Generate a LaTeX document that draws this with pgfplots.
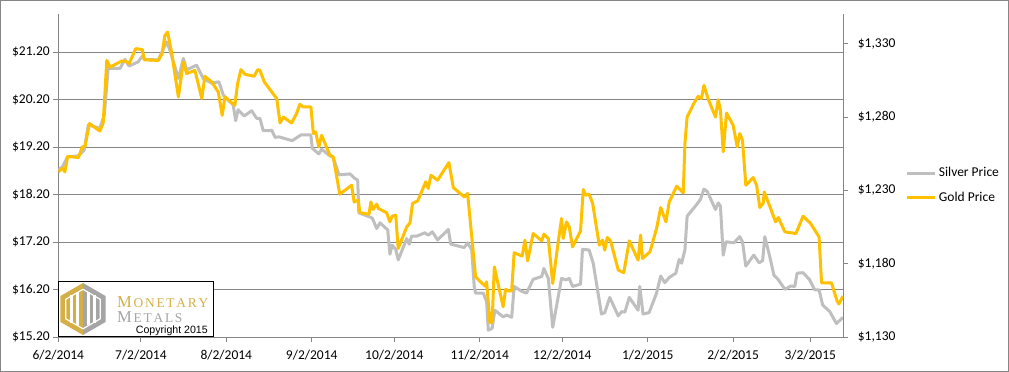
\documentclass[border=0pt]{standalone}
\usepackage{pgfplots}
\pgfplotsset{compat=1.18}
\usepackage{fontspec}
\setmainfont{Carlito}
\newfontfamily\serifl{Liberation Serif}
\newfontfamily\arial{Liberation Sans}
\definecolor{goldc}{HTML}{FFC000}
\definecolor{silverc}{HTML}{BFBFBF}
\definecolor{gridc}{HTML}{868686}
\definecolor{logogold}{HTML}{D4AF45}
\definecolor{logogray}{HTML}{A5A5A5}

\pgfplotstableread{
day price
0.0 18.72
1.5 18.79
3.4 19.00
7.3 19.02
9.4 19.14
10.9 19.67
15.1 19.60
16.7 19.88
18.1 20.86
22.4 20.86
24.2 21.05
25.7 20.91
29.0 21.00
30.5 21.12
31.5 21.05
36.3 21.04
39.3 21.42
40.5 21.25
43.6 20.65
45.4 21.07
46.6 20.83
50.2 20.93
51.4 20.79
52.6 20.65
55.7 20.55
58.3 20.58
59.9 20.30
63.5 20.09
64.4 19.76
65.3 19.99
67.5 19.86
70.2 19.97
72.0 19.81
73.2 19.81
74.4 19.55
76.5 19.55
77.5 19.56
78.7 19.41
80.1 19.42
84.9 19.34
88.1 19.46
91.7 19.46
92.2 19.18
94.6 19.06
95.6 19.16
98.6 19.02
99.8 18.99
101.9 18.62
105.9 18.64
107.5 18.55
108.7 18.51
109.1 17.82
112.8 17.74
114.0 17.71
115.6 17.49
116.8 17.61
119.6 17.46
120.4 16.95
121.2 17.14
122.5 17.05
123.4 16.83
124.6 17.00
126.5 17.28
127.4 17.16
128.3 17.33
130.1 17.33
133.1 17.40
134.3 17.35
135.8 17.42
137.7 17.25
141.6 17.47
142.5 17.16
147.4 17.09
148.6 17.19
150.1 17.04
151.0 16.27
151.5 16.13
154.3 16.13
155.5 15.95
156.1 15.35
157.5 15.39
158.5 15.77
161.5 15.63
162.8 15.67
164.6 15.62
165.5 16.27
168.2 16.17
170.0 16.13
172.4 16.42
175.5 16.48
176.3 16.65
177.9 16.44
179.5 15.41
182.7 16.44
184.3 16.41
185.5 16.44
186.7 16.27
189.6 16.32
190.3 17.05
192.7 17.04
194.2 16.76
197.2 15.69
198.4 15.72
200.2 16.04
203.3 15.65
204.5 15.74
205.7 15.73
207.3 16.04
210.5 15.77
211.1 16.27
212.3 15.69
214.5 15.72
217.2 16.13
218.7 16.49
220.2 16.35
221.8 16.46
224.2 16.55
225.4 16.84
226.3 16.76
227.5 17.04
228.3 17.75
231.7 17.99
233.2 18.11
234.4 18.32
235.6 18.27
238.6 17.89
239.6 18.03
240.4 17.96
241.4 16.93
242.4 17.21
245.3 17.19
247.4 17.32
248.4 17.21
249.6 16.70
252.5 16.93
254.4 16.77
255.7 16.81
256.5 17.32
258.3 16.90
259.8 16.51
261.3 16.42
263.8 16.21
265.9 16.28
267.4 16.27
268.2 16.55
270.4 16.56
272.8 16.41
274.6 16.20
276.2 16.20
277.5 15.88
280.1 15.74
282.5 15.49
284.9 15.62
}\silverdata

\pgfplotstableread{
day price
0.0 1242.7
1.5 1245.0
2.4 1242.7
3.4 1253.3
7.3 1252.4
8.7 1259.7
9.7 1260.0
11.3 1275.6
13.3 1272.9
15.1 1270.5
16.3 1276.0
17.6 1318.6
18.8 1314.0
23.0 1318.2
24.5 1318.0
25.7 1316.4
28.1 1326.6
30.5 1326.0
31.2 1319.0
36.3 1318.6
37.7 1323.2
38.7 1335.6
39.7 1337.9
41.2 1323.2
43.6 1293.7
45.4 1317.5
46.6 1309.6
49.6 1311.8
52.1 1292.6
53.2 1307.8
55.7 1303.9
58.1 1297.0
59.5 1281.2
60.5 1293.7
64.1 1288.0
65.1 1302.8
66.3 1312.3
67.8 1309.1
71.1 1307.8
72.4 1312.3
73.2 1311.8
74.8 1303.9
79.3 1292.6
80.5 1276.0
81.7 1280.0
84.7 1276.0
86.5 1282.4
87.7 1288.7
88.9 1286.9
91.7 1286.9
92.6 1268.8
93.4 1269.9
94.6 1259.7
95.6 1267.6
98.6 1254.0
99.8 1252.9
102.2 1227.5
106.5 1233.6
107.4 1222.2
108.9 1223.4
109.5 1214.8
112.8 1213.9
113.5 1222.2
114.3 1217.1
115.6 1220.7
116.2 1217.8
119.2 1214.8
120.4 1208.6
121.2 1212.5
122.5 1213.2
123.4 1190.5
126.5 1205.2
127.7 1208.0
128.6 1221.2
130.5 1222.9
133.4 1235.9
134.3 1231.4
135.3 1240.4
137.7 1237.0
141.8 1249.0
143.4 1232.0
147.4 1225.6
148.6 1228.0
151.5 1171.2
154.9 1164.9
155.5 1167.8
156.7 1139.9
157.5 1140.6
158.3 1178.0
161.5 1150.8
162.4 1162.7
163.3 1161.7
164.6 1161.7
165.5 1187.6
168.4 1185.3
169.4 1196.2
170.4 1182.1
172.4 1200.7
175.5 1195.7
176.3 1200.3
177.9 1197.3
179.5 1166.7
181.1 1189.4
182.7 1211.0
183.3 1197.3
184.5 1208.6
185.5 1205.2
186.7 1191.6
189.6 1202.5
190.6 1230.7
191.5 1226.8
192.7 1227.5
194.0 1221.2
196.4 1192.8
197.6 1196.2
198.4 1189.4
199.3 1198.0
200.5 1195.7
203.3 1175.8
205.3 1174.0
207.3 1195.7
210.5 1182.6
211.4 1199.6
212.1 1183.7
214.8 1188.2
217.2 1204.1
218.7 1218.4
220.6 1208.6
221.8 1222.2
224.5 1232.9
226.9 1228.5
227.5 1262.0
228.3 1280.0
230.7 1289.2
232.3 1294.1
233.5 1292.6
234.4 1301.6
235.9 1292.6
238.6 1280.0
239.6 1291.9
240.4 1284.6
241.4 1256.3
242.6 1282.8
245.0 1274.4
246.5 1259.7
247.4 1268.8
248.4 1264.2
249.6 1233.6
252.3 1238.8
253.5 1233.6
254.7 1218.4
255.9 1221.2
256.3 1229.0
258.4 1218.8
260.4 1208.6
261.4 1211.6
263.8 1201.8
267.8 1200.7
270.4 1212.5
273.1 1207.6
276.2 1198.4
277.1 1167.1
280.7 1167.1
282.7 1154.9
283.4 1152.7
284.9 1158.1
}\golddata

\begin{document}
\begin{tikzpicture}[x=1pt,y=1pt]
\begin{axis}[
  at={(0,0)}, anchor=south west,
  scale only axis, width=785pt, height=323pt,
  xmin=0, xmax=285, ymin=15.2, ymax=22.0,
  axis y line*=left, axis x line*=bottom,
  axis line style={gridc, line width=0.9pt, -},
  xtick={0,30,61,92,122,153,183,214,245,273},
  xticklabels={6/2/2014,7/2/2014,8/2/2014,9/2/2014,10/2/2014,11/2/2014,12/2/2014,1/2/2015,2/2/2015,3/2/2015},
  ytick={15.2,16.2,17.2,18.2,19.2,20.2,21.2},
  yticklabels={\$15.20,\$16.20,\$17.20,\$18.20,\$19.20,\$20.20,\$21.20},
  ymajorgrids, major grid style={gridc, line width=0.9pt},
  tick align=outside, major tick length=5pt,
  tick style={gridc, line width=0.9pt},
  ticklabel style={font=\fontsize{13.5}{15}\selectfont, text=black},
  xticklabel style={yshift=-4pt},
]
\addplot[silverc, line width=3pt, line join=round, no markers] table[x=day, y=price] {\silverdata};
\end{axis}
\begin{axis}[
  at={(0,0)}, anchor=south west,
  scale only axis, width=785pt, height=323pt,
  xmin=0, xmax=285, ymin=1130, ymax=1350,
  axis y line*=right, axis x line=none, xtick=\empty,
  axis line style={gridc, line width=0.9pt, -},
  ytick={1130,1180,1230,1280,1330},
  yticklabels={{\$1,130},{\$1,180},{\$1,230},{\$1,280},{\$1,330}},
  tick align=outside, major tick length=5pt,
  tick style={gridc, line width=0.9pt},
  ticklabel style={font=\fontsize{13.5}{15}\selectfont, text=black},
  yticklabel style={xshift=6pt},
  legend style={at={(1.0795,0.47)}, anchor=west, draw=none, fill=none,
    font=\fontsize{13.5}{15}\selectfont, row sep=10pt, inner sep=0pt},
  legend cell align=left,
  legend image code/.code={\draw[#1] (0pt,0pt) -- (28pt,0pt);},
]
\addlegendimage{silverc, line width=3pt}
\addlegendentry{Silver Price}
\addplot[goldc, line width=3pt, line join=round, no markers] table[x=day, y=price] {\golddata};
\addlegendentry{Gold Price}
\end{axis}
% logo box
\fill[white] (0,0) rectangle (154.7,56.3);
\draw[black, line width=0.9pt] (0.45,0.45) rectangle (154.7,56.3);
\fill[logogold] (24.7,54.3) -- (2.2,41.3) -- (2.2,15.3) -- (24.7,2.3) -- cycle;
\fill[logogray] (24.7,54.3) -- (47.2,41.3) -- (47.2,15.3) -- (24.7,2.3) -- cycle;
\draw[white, line width=1.2pt] (24.7,48) -- (7.5,38) -- (7.5,18.5) -- (24.7,8.5) -- (41.9,18.5) -- (41.9,38) -- cycle;
\fill[white] (11.5,14) rectangle (14.5,42);
\fill[white] (18,12) rectangle (21,45);
\fill[white] (28.4,12) rectangle (31.4,45);
\fill[white] (34.9,14) rectangle (37.9,42);
\node[anchor=base west, inner sep=0, text=logogold] at (58.7,30.3)
  {\serifl\fontsize{16.6}{16}\selectfont M\kern1.6pt\fontsize{13.4}{14}\selectfont O\kern1.8pt N\kern1.8pt E\kern1.8pt T\kern1.8pt A\kern1.8pt R\kern1.8pt Y};
\node[anchor=base west, inner sep=0, text=logogray] at (58.7,15.3)
  {\serifl\fontsize{16.6}{16}\selectfont M\kern1.6pt\fontsize{13.4}{14}\selectfont E\kern1.8pt T\kern1.8pt A\kern1.8pt L\kern1.8pt S};
\node[anchor=base east, inner sep=0, text=black] at (149.7,4.3)
  {\arial\fontsize{10.6}{12}\selectfont Copyright 2015};
% outer frame
\draw[gridc, line width=1pt] (-57.8,-34.2) rectangle (950.2,336.8);
\pgfresetboundingbox
\useasboundingbox (-58.3,-34.7) rectangle (950.7,337.3);
\end{tikzpicture}
\end{document}
